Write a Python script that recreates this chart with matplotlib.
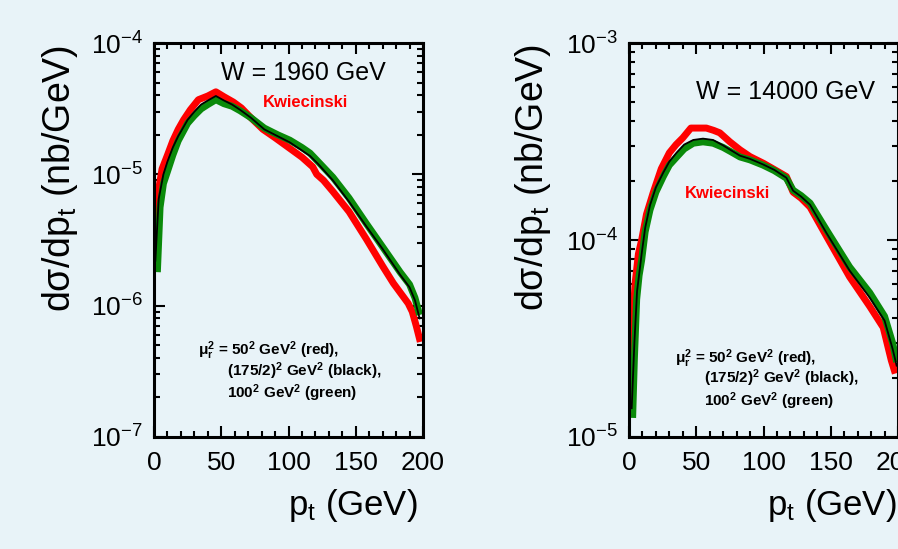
import matplotlib
matplotlib.use('Agg')
import matplotlib.pyplot as plt
from matplotlib.ticker import LogLocator, MultipleLocator, NullFormatter

plt.rcParams['font.family'] = ['Liberation Sans', 'DejaVu Sans']
plt.rcParams['mathtext.default'] = 'regular'

bg = '#e8f3f8'

# W = 1960 GeV
x_red_1 = [0.5, 3, 6, 10, 14, 18, 22, 27, 33, 40, 46, 52, 59, 65, 72, 81, 90, 99, 110, 118, 121,
           126, 133, 145, 158, 170, 178, 189, 192, 195, 198]
y_red_1 = [2.3e-6, 7.2e-6, 1.1e-5, 1.4e-5, 1.8e-5, 2.2e-5, 2.6e-5, 3.1e-5, 3.7e-5, 3.95e-5,
           4.25e-5, 3.9e-5, 3.55e-5, 3.2e-5, 2.7e-5, 2.2e-5, 1.9e-5, 1.63e-5, 1.35e-5, 1.14e-5,
           1.0e-5, 9.0e-6, 7.4e-6, 5.2e-6, 3.2e-6, 2.0e-6, 1.48e-6, 1.04e-6, 9.0e-7, 7.0e-7, 5.3e-7]
x_grn_1 = [2.5, 4.5, 7, 10, 14, 18, 25, 30, 35, 40, 46, 52, 58, 64, 72, 82, 92, 101, 110, 116,
           122, 133, 145, 158, 170, 183, 190, 194, 197.5]
y_grn_1 = [1.8e-6, 5.6e-6, 8.5e-6, 1.05e-5, 1.4e-5, 1.8e-5, 2.45e-5, 2.8e-5, 3.15e-5, 3.4e-5,
           3.7e-5, 3.45e-5, 3.3e-5, 3.05e-5, 2.7e-5, 2.25e-5, 2.0e-5, 1.82e-5, 1.6e-5, 1.45e-5,
           1.25e-5, 9.5e-6, 6.6e-6, 4.2e-6, 2.8e-6, 1.8e-6, 1.45e-6, 1.15e-6, 8.5e-7]
x_blk_1 = [1, 3.5, 7, 10, 14, 18, 25, 30, 35, 40, 46, 52, 58, 64, 72, 82, 92, 101, 110, 116,
           122, 133, 145, 158, 170, 183, 190, 194, 197.5]
y_blk_1 = [2.2e-6, 6.5e-6, 1.0e-5, 1.25e-5, 1.6e-5, 1.95e-5, 2.6e-5, 3.0e-5, 3.4e-5, 3.65e-5,
           3.95e-5, 3.65e-5, 3.4e-5, 3.1e-5, 2.7e-5, 2.2e-5, 1.95e-5, 1.75e-5, 1.52e-5, 1.38e-5,
           1.2e-5, 9.0e-6, 6.2e-6, 4.0e-6, 2.7e-6, 1.72e-6, 1.38e-6, 1.1e-6, 8.0e-7]

# W = 14000 GeV
x_red_2 = [1.2, 2.5, 4.5, 7, 9.4, 13, 18, 24, 30, 35, 40, 46, 52, 57.5, 63, 67.5, 75, 82.5, 90,
           100, 108, 117, 122, 128, 134.6, 147, 164, 179, 189, 195, 198]
y_red_2 = [1.66e-5, 3.5e-5, 6.0e-5, 8.5e-5, 1.0e-4, 1.35e-4, 1.74e-4, 2.3e-4, 2.77e-4, 3.05e-4,
           3.3e-4, 3.7e-4, 3.7e-4, 3.7e-4, 3.6e-4, 3.5e-4, 3.15e-4, 2.87e-4, 2.65e-4, 2.45e-4,
           2.28e-4, 2.1e-4, 1.75e-4, 1.63e-4, 1.47e-4, 1.04e-4, 6.5e-5, 4.6e-5, 3.6e-5, 2.45e-5, 2.1e-5]
x_grn_2 = [2.7, 4, 5.7, 7.5, 9.4, 12, 15.6, 20, 25.5, 30, 35.5, 41, 47.8, 55, 62.5, 70, 76, 82.5,
           90, 99.6, 108, 117, 122, 128, 134.6, 147, 164, 179, 190, 196, 199]
y_grn_2 = [1.25e-5, 2.5e-5, 5.0e-5, 6.6e-5, 7.9e-5, 1.1e-4, 1.42e-4, 1.75e-4, 2.1e-4, 2.4e-4,
           2.64e-4, 2.9e-4, 3.1e-4, 3.15e-4, 3.1e-4, 2.95e-4, 2.8e-4, 2.64e-4, 2.55e-4, 2.4e-4,
           2.25e-4, 2.06e-4, 1.79e-4, 1.68e-4, 1.54e-4, 1.12e-4, 7.3e-5, 5.4e-5, 4.1e-5, 3.0e-5, 2.4e-5]
x_blk_2 = [2, 4, 6, 9.4, 12, 15.6, 20, 25.5, 30, 35.5, 41, 47.8, 55, 62.5, 70, 76, 82.5, 90,
           99.6, 108, 117, 122, 128, 134.6, 147, 164, 179, 190, 196, 199]
y_blk_2 = [1.4e-5, 3.0e-5, 5.5e-5, 8.5e-5, 1.15e-4, 1.5e-4, 1.85e-4, 2.2e-4, 2.5e-4, 2.78e-4,
           3.05e-4, 3.22e-4, 3.27e-4, 3.22e-4, 3.02e-4, 2.85e-4, 2.68e-4, 2.58e-4, 2.42e-4, 2.27e-4,
           2.07e-4, 1.78e-4, 1.66e-4, 1.51e-4, 1.08e-4, 7.0e-5, 5.1e-5, 3.9e-5, 2.8e-5, 2.3e-5]

mu_lines = [r'$\mu_r^2$ = 50$^2$ GeV$^2$ (red),',
            r'(175/2)$^2$ GeV$^2$ (black),',
            r'100$^2$ GeV$^2$ (green)']

fig = plt.figure(figsize=(8.98, 5.49), dpi=100, facecolor=bg)


def make_panel(rect, ylim, curves, title, title_xy, kw_xy, mu_xy):
    ax = fig.add_axes(rect)
    ax.set_facecolor(bg)
    xr, yr, xg, yg, xb, yb = curves
    ax.plot(xr, yr, color='#ff0000', lw=5, solid_capstyle='butt')
    ax.plot(xg, yg, color='#0a8a0a', lw=5, solid_capstyle='butt')
    ax.plot(xb, yb, color='black', lw=1.3)
    ax.set_yscale('log')
    ax.set_xlim(0, 200)
    ax.set_ylim(*ylim)
    ax.xaxis.set_major_locator(MultipleLocator(50))
    ax.xaxis.set_minor_locator(MultipleLocator(10))
    ax.yaxis.set_major_locator(LogLocator(base=10))
    ax.yaxis.set_minor_locator(LogLocator(base=10, subs=range(2, 10)))
    ax.yaxis.set_minor_formatter(NullFormatter())
    ax.tick_params(which='both', direction='in', top=True, right=True, width=1.5, labelsize=19)
    ax.tick_params(which='major', length=8)
    ax.tick_params(which='minor', length=4)
    ax.tick_params(axis='x', pad=10)
    ax.tick_params(axis='y', pad=8)
    for s in ax.spines.values():
        s.set_linewidth(2.2)
    ax.text(*title_xy, title, transform=ax.transAxes, fontsize=18, ha='left', va='center')
    ax.text(*kw_xy, 'Kwiecinski', transform=ax.transAxes, fontsize=12, fontweight='bold',
            color='#ff0000', ha='left', va='center')
    mx, my = mu_xy
    ax.text(mx, my, mu_lines[0], transform=ax.transAxes, fontsize=11, fontweight='bold',
            ha='left', va='center')
    ax.text(mx + 0.107, my - 0.052, mu_lines[1], transform=ax.transAxes, fontsize=11,
            fontweight='bold', ha='left', va='center')
    ax.text(mx + 0.107, my - 0.11, mu_lines[2], transform=ax.transAxes, fontsize=11,
            fontweight='bold', ha='left', va='center')
    return ax


W, H = 898, 549
ax1 = make_panel([154 / W, 112 / H, 269 / W, 394 / H], (1e-7, 1e-4),
                 (x_red_1, y_red_1, x_grn_1, y_grn_1, x_blk_1, y_blk_1),
                 'W = 1960 GeV', (0.25, 0.925), (0.405, 0.85), (0.165, 0.22))
ax2 = make_panel([629 / W, 112 / H, 269 / W, 394 / H], (1e-5, 1e-3),
                 (x_red_2, y_red_2, x_grn_2, y_grn_2, x_blk_2, y_blk_2),
                 'W = 14000 GeV', (0.25, 0.875), (0.208, 0.617), (0.17, 0.2))

ylab = 'dσ/dp$_t$ (nb/GeV)'
fig.text(60 / W, 1 - 178 / H, ylab, rotation=90, fontsize=27, ha='center', va='center')
fig.text(533 / W, 1 - 177 / H, ylab, rotation=90, fontsize=27, ha='center', va='center')
xlab = 'p$_t$ (GeV)'
fig.text(418 / W, 1 - 505 / H, xlab, fontsize=25, ha='right', va='center')
fig.text(897 / W, 1 - 505 / H, xlab, fontsize=25, ha='right', va='center')

fig.savefig('out.png', dpi=100, facecolor=bg)
